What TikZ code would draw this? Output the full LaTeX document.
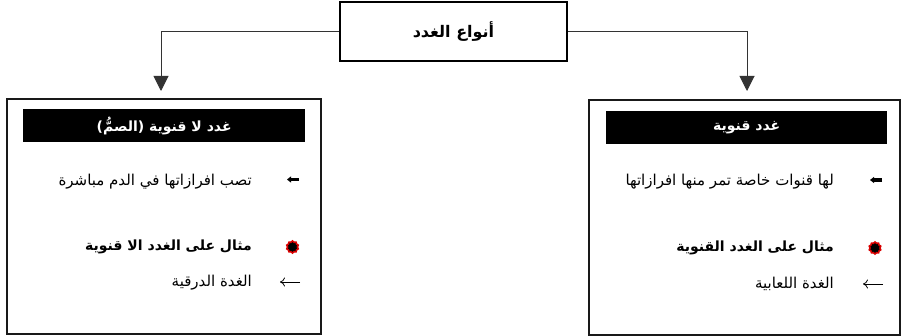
\documentclass[tikz,border=0pt]{standalone}
\usepackage{fontspec}
\usetikzlibrary{arrows.meta,shapes.geometric}
\TeXXeTstate=1
\newfontfamily\arabicfont[Script=Arabic]{DejaVu Sans}
\tikzset{
  conn/.style={draw=black!80, line width=1pt, -{Triangle[length=15pt,width=15pt]}},
  mainbox/.style={draw=black, line width=2.8pt, minimum width=227pt, minimum height=59pt, inner sep=0pt, font=\arabicfont\bfseries\fontsize{16}{19}\selectfont},
  groupbox/.style={draw=black!90, line width=1.6pt, minimum height=235pt, inner sep=0pt, anchor=north west},
  headbar/.style={fill=black, text=white, minimum height=33pt, inner sep=0pt, anchor=north west, font=\arabicfont\bfseries\fontsize{14}{17}\selectfont},
  bodytext/.style={anchor=east, inner sep=0pt, font=\arabicfont\fontsize{15}{18}\selectfont},
  boldtext/.style={anchor=east, inner sep=0pt, font=\arabicfont\bfseries\fontsize{14}{17}\selectfont},
  reddot/.style={star, star points=10, star point ratio=1.2, fill=black, draw=red!85!black, line width=1.6pt, minimum size=12pt, inner sep=0pt},
  bulletarrow/.style={line width=3.5pt, -{Triangle[length=4pt,width=6pt]}},
  thinarrow/.style={line width=0.8pt, -{To[length=5pt,width=9pt]}}
}
\begin{document}
\begin{tikzpicture}[x=1pt,y=-1pt]
\useasboundingbox (0,0) rectangle (902,336);
% top node
\node[mainbox] (types) at (453.5,31.5) {\beginR أنواع الغدد\endR};
% group boxes
\node[groupbox, minimum width=314pt] (lbox) at (6,98) {};
\node[groupbox, minimum width=311pt] (rbox) at (588,99) {};
% headers
\node[headbar, minimum width=282pt] (lhead) at (23,109) {\beginR غدد لا قنوية (الصمُّ)\endR};
\node[headbar, minimum width=281pt] (rhead) at (606,111) {\beginR غدد قنوية\endR};
% connectors
\coordinate (ltip) at (161,91);
\coordinate (rtip) at (747,91);
\draw[conn] (types.west) -| (ltip);
\draw[conn] (types.east) -| (rtip);
% left box contents
\coordinate (lb1a) at (299,179.5);
\coordinate (lb1b) at (287,179.5);
\draw[bulletarrow] (lb1a) -- (lb1b);
\node[bodytext] (ltext1) at (252,182) {\beginR تصب افرازاتها في الدم مباشرة\endR};
\node[reddot] (ldot) at (292.5,247) {};
\node[boldtext] (ltext2) at (252,247) {\beginR مثال على الغدد الا قنوية\endR};
\coordinate (la1) at (300,282);
\coordinate (la2) at (280,282);
\draw[thinarrow] (la1) -- (la2);
\node[bodytext] (ltext3) at (252,283) {\beginR الغدة الدرقية\endR};
% right box contents
\coordinate (rb1a) at (882,180);
\coordinate (rb1b) at (870,180);
\draw[bulletarrow] (rb1a) -- (rb1b);
\node[bodytext] (rtext1) at (834,182) {\beginR لها قنوات خاصة تمر منها افرازاتها\endR};
\node[reddot] (rdot) at (875,248) {};
\node[boldtext] (rtext2) at (834,248) {\beginR مثال على الغدد القنوية\endR};
\coordinate (ra1) at (883,284);
\coordinate (ra2) at (863,284);
\draw[thinarrow] (ra1) -- (ra2);
\node[bodytext] (rtext3) at (834,284) {\beginR الغدة اللعابية\endR};
\end{tikzpicture}
\end{document}
